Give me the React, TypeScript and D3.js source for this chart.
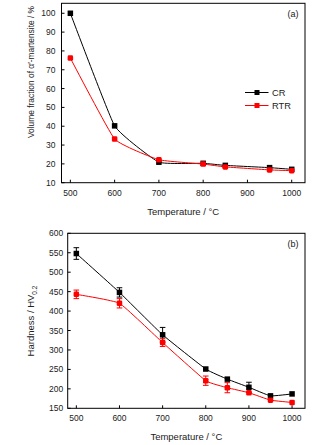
import React from "react";
import * as d3 from "d3";

const temps = [500, 600, 700, 800, 850, 950, 1000];
const crFraction = [100, 40.2, 20.9, 20.3, 19.2, 18.0, 17.1];
const rtrFraction = [76.2, 33.2, 22.2, 19.9, 18.4, 16.8, 16.4];

const hTemps = [500, 600, 700, 800, 850, 900, 950, 1000];
const crHard = [548, 448, 339, 251, 225, 204, 182, 187];
const crHardErr = [15, 12, 19, 0, 0, 13, 0, 0];
const rtrHard = [443, 420, 319, 221, 203, 190, 171, 165];
const rtrHardErr = [11, 12, 10, 12, 13, 0, 0, 0];

const xTicks = [500, 600, 700, 800, 900, 1000];
const yTicksA = [10, 20, 30, 40, 50, 60, 70, 80, 90, 100];
const yTicksB = [150, 200, 250, 300, 350, 400, 450, 500, 550, 600];

const FONT = "Liberation Sans, Arial, sans-serif";
const RED = "#ff0000";

type Pt = { x: number; y: number; e?: number };

function Marker({ x, y, color }: { x: number; y: number; color: string }) {
  const s = 5.5;
  return color === "black" ? (
    <rect x={x - s / 2} y={y - s / 2} width={s} height={s} fill={color} />
  ) : (
    <rect x={x - s / 2} y={y - s / 2} width={s} height={s} rx={1.3} fill={color} />
  );
}

function Panel({
  top, bottom, left, right, yDomain, yTicks, series, label, yTitle, tickGap,
}: {
  top: number; bottom: number; left: number; right: number;
  yDomain: [number, number]; yTicks: number[];
  series: { pts: Pt[]; color: string }[]; label: string; yTitle: React.ReactNode; tickGap: number;
}) {
  const x = d3.scaleLinear().domain([480, 1030]).range([left, right]);
  const y = d3.scaleLinear().domain(yDomain).range([bottom, top]);
  const line = d3.line<Pt>().x((d) => x(d.x)).y((d) => y(d.y)).curve(d3.curveCardinal.tension(0.65));
  return (
    <g>
      {series.map((s, i) => (
        <g key={i}>
          <path d={line(s.pts) || ""} fill="none" stroke={s.color} strokeWidth={1} />
          {s.pts.map((p, j) =>
            p.e ? (
              <g key={"e" + j} stroke={s.color} strokeWidth={1}>
                <line x1={x(p.x)} x2={x(p.x)} y1={y(p.y - p.e)} y2={y(p.y + p.e)} />
                <line x1={x(p.x) - 2.8} x2={x(p.x) + 2.8} y1={y(p.y - p.e)} y2={y(p.y - p.e)} />
                <line x1={x(p.x) - 2.8} x2={x(p.x) + 2.8} y1={y(p.y + p.e)} y2={y(p.y + p.e)} />
              </g>
            ) : null
          )}
          {s.pts.map((p, j) => (
            <Marker key={j} x={x(p.x)} y={y(p.y)} color={s.color} />
          ))}
        </g>
      ))}
      <rect x={left} y={top} width={right - left} height={bottom - top} fill="none" stroke="black" strokeWidth={1} />
      {xTicks.map((t) => (
        <g key={t}>
          <line x1={x(t)} x2={x(t)} y1={bottom} y2={bottom - 3} stroke="black" />
          <text x={x(t)} y={bottom + 13} textAnchor="middle" fontSize={8.5} fontFamily={FONT} fill="#222">
            {t}
          </text>
        </g>
      ))}
      {yTicks.map((t) => (
        <g key={t}>
          <line x1={left} x2={left + 3} y1={y(t)} y2={y(t)} stroke="black" />
          <text x={left - tickGap} y={y(t) + 3} textAnchor="end" fontSize={8.5} fontFamily={FONT} fill="#222">
            {t}
          </text>
        </g>
      ))}
      <text x={right - 12} y={top + 14} textAnchor="middle" fontSize={9} fontFamily={FONT} fill="#222">
        {label}
      </text>
      <text x={(left + right) / 2} y={bottom + 32} textAnchor="middle" fontSize={9.5} fontFamily={FONT} fill="#222">
        Temperature / °C
      </text>
      {yTitle}
    </g>
  );
}

export default function App() {
  const topSeries = [
    { pts: temps.map((t, i) => ({ x: t, y: crFraction[i] })), color: "black" },
    { pts: temps.map((t, i) => ({ x: t, y: rtrFraction[i] })), color: RED },
  ];
  const botSeries = [
    { pts: hTemps.map((t, i) => ({ x: t, y: crHard[i], e: crHardErr[i] })), color: "black" },
    { pts: hTemps.map((t, i) => ({ x: t, y: rtrHard[i], e: rtrHardErr[i] })), color: RED },
  ];
  return (
    <svg width={323} height={445} style={{ position: "absolute", left: 0, top: 0, background: "white" }}>
      <rect width={323} height={445} fill="white" />
      <Panel
        top={3.3} bottom={182.7} left={61.5} right={305} yDomain={[10, 105.3]} yTicks={yTicksA}
        series={topSeries} label="(a)" tickGap={6}
        yTitle={
          <text transform="translate(34,72) rotate(-90)" textAnchor="middle" fontSize={8.4} fontFamily={FONT} fill="#222">
            Volume fraction of α′-martensite / %
          </text>
        }
      />
      <Panel
        top={233.3} bottom={408.3} left={67.7} right={305} yDomain={[150, 600]} yTicks={yTicksB}
        series={botSeries} label="(b)" tickGap={4.5}
        yTitle={
          <text transform="translate(34,321) rotate(-90)" textAnchor="middle" fontSize={9.5} fontFamily={FONT} fill="#222">
            Hardness / HV<tspan dy={3} fontSize={6.5}>0.2</tspan>
          </text>
        }
      />
      {[{ name: "CR", color: "black", y: 92.5 }, { name: "RTR", color: RED, y: 105.5 }].map((l) => (
        <g key={l.name}>
          <line x1={245} x2={268.5} y1={l.y} y2={l.y} stroke={l.color} strokeWidth={1} />
          <rect x={257 - 2.5} y={l.y - 2.5} width={5} height={5} fill={l.color} />
          <text x={272} y={l.y + 3.3} fontSize={9.3} fontFamily={FONT} fill="#222">
            {l.name}
          </text>
        </g>
      ))}
    </svg>
  );
}
